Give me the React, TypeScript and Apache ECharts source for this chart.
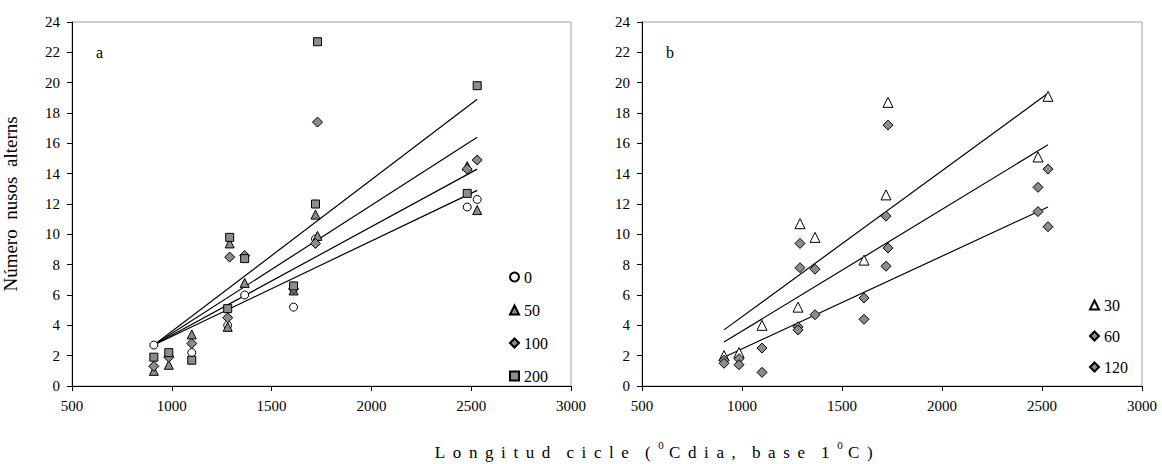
import { useEffect, useRef } from 'react';
import * as echarts from 'echarts';

const FONT = '"Liberation Serif", "Times New Roman", serif';
const GRAY = '#8c8c8c';

// Panel a: [longitud cicle, número nusos]
const a0: number[][] = [[910, 2.7], [985, 2.0], [1100, 2.2], [1280, 4.0], [1365, 6.0], [1610, 5.2], [1720, 9.7], [2480, 11.8], [2530, 12.3]];
const a50: number[][] = [[910, 1.0], [985, 1.4], [1100, 3.4], [1280, 3.9], [1290, 9.4], [1365, 6.8], [1610, 6.3], [1720, 11.3], [1730, 9.9], [2480, 14.5], [2530, 11.6]];
const a100: number[][] = [[910, 1.3], [985, 1.9], [1100, 2.8], [1280, 4.5], [1290, 8.5], [1365, 8.6], [1610, 6.4], [1720, 9.4], [1730, 17.4], [2480, 14.3], [2530, 14.9]];
const a200: number[][] = [[910, 1.9], [985, 2.2], [1100, 1.7], [1280, 5.1], [1290, 9.8], [1365, 8.4], [1610, 6.6], [1720, 12.0], [1730, 22.7], [2480, 12.7], [2530, 19.8]];

// Panel b
const b30: number[][] = [[910, 2.0], [985, 2.2], [1100, 4.0], [1280, 5.2], [1290, 10.7], [1365, 9.8], [1610, 8.3], [1720, 12.6], [1730, 18.7], [2480, 15.1], [2530, 19.1]];
const b60: number[][] = [[910, 1.7], [985, 1.8], [1100, 2.5], [1280, 3.9], [1290, 9.4], [1365, 7.7], [1610, 5.8], [1720, 11.2], [1730, 17.2], [2480, 13.1], [2530, 14.3]];
const b120: number[][] = [[910, 1.5], [985, 1.4], [1100, 0.9], [1280, 3.7], [1290, 7.8], [1365, 4.7], [1610, 4.4], [1720, 7.9], [1730, 9.1], [2480, 11.5], [2530, 10.5]];

// Trend lines: x range and y at start/end
const trendX = [910, 2530];
const trendA0 = [2.7, 12.9];
const trendA50 = [2.7, 14.3];
const trendA100 = [2.7, 16.4];
const trendA200 = [2.7, 18.9];
const trendB30 = [3.7, 19.3];
const trendB60 = [2.9, 15.9];
const trendB120 = [1.9, 11.8];

const xTicks = { min: 500, max: 3000, interval: 500 };
const yTicks = { min: 0, max: 24, interval: 2 };

const legendA = ['0', '50', '100', '200'];
const legendB = ['30', '60', '120'];

// x-axis title, letter-spaced; '^' marks a superscript zero
const xTitleParts = ['Longitud', 'cicle', '(^Cdia,', 'base', '1^C)'];
const xTitle = xTitleParts
  .map((w) => {
    let out = '';
    for (let i = 0; i < w.length; i++) {
      out += w[i] === '^' ? '{s|0}' : `{l|${w[i]}}`;
    }
    return out;
  })
  .join('{g|\u00A0\u00A0}');

function trend(ys: number[], idx: number) {
  return {
    type: 'line',
    xAxisIndex: idx,
    yAxisIndex: idx,
    data: trendX.map((x, i) => [x, ys[i]]),
    showSymbol: false,
    symbol: 'none',
    silent: true,
    lineStyle: { color: '#000', width: 1.2 },
    z: 2,
  };
}

function scatter(name: string, data: number[][], idx: number, symbol: string, fill: string, size: number) {
  return {
    type: 'scatter',
    name,
    xAxisIndex: idx,
    yAxisIndex: idx,
    data,
    symbol,
    symbolSize: size,
    itemStyle: { color: fill, borderColor: '#000', borderWidth: 1, opacity: 1 },
    z: 3,
  };
}

function xAxis(idx: number) {
  return {
    type: 'value',
    gridIndex: idx,
    ...xTicks,
    axisLine: { show: true, lineStyle: { color: '#000', width: 1 } },
    axisTick: { show: true, length: 5, lineStyle: { color: '#000' } },
    axisLabel: { fontFamily: FONT, fontSize: 15, color: '#000', margin: 12, formatter: (v: number) => String(v) },
    splitLine: { show: false },
  };
}

function yAxis(idx: number) {
  return {
    type: 'value',
    gridIndex: idx,
    ...yTicks,
    axisLine: { show: true, lineStyle: { color: '#000', width: 1 } },
    axisTick: { show: true, length: 5, lineStyle: { color: '#000' } },
    axisLabel: { fontFamily: FONT, fontSize: 15, color: '#000', margin: 12 },
    splitLine: { show: false },
    ...(idx === 0
      ? {
          name: 'Número  nusos  alterns',
          nameLocation: 'middle',
          nameGap: 52,
          nameTextStyle: { fontFamily: FONT, fontSize: 19, color: '#000' },
        }
      : {}),
  };
}

const legendCommon = {
  orient: 'vertical',
  itemWidth: 9,
  itemHeight: 9,
  textStyle: { fontFamily: FONT, fontSize: 16, color: '#000' },
  selectedMode: false,
};

const option = {
  animation: false,
  backgroundColor: '#fff',
  grid: [
    { left: 71, top: 22, width: 500, height: 364, show: true, borderColor: '#a0a0a0', borderWidth: 1 },
    { left: 642, top: 22, width: 500, height: 364, show: true, borderColor: '#a0a0a0', borderWidth: 1 },
  ],
  xAxis: [xAxis(0), xAxis(1)],
  yAxis: [yAxis(0), yAxis(1)],
  legend: [
    { ...legendCommon, data: legendA, left: 504, top: 264, itemGap: 17 },
    { ...legendCommon, data: legendB, left: 1084, top: 292, itemGap: 15 },
  ],
  graphic: [
    { type: 'text', left: 96, top: 44, style: { text: 'a', font: `16px ${FONT}`, fill: '#000' } },
    { type: 'text', left: 666, top: 44, style: { text: 'b', font: `16px ${FONT}`, fill: '#000' } },
    {
      type: 'text',
      x: 431,
      y: 450,
      style: {
        text: xTitle,
        align: 'left',
        verticalAlign: 'middle',
        fill: '#000',
        rich: {
          l: { fontFamily: FONT, fontSize: 17, lineHeight: 22, verticalAlign: 'bottom', padding: [0, 3.8, 0, 3.8], fill: '#000' },
          g: { fontFamily: FONT, fontSize: 17, lineHeight: 22, verticalAlign: 'bottom', fill: '#000' },
          s: { fontFamily: FONT, fontSize: 11, lineHeight: 22, verticalAlign: 'top', padding: [0, 1.5, 0, 3.8], fill: '#000' },
        },
      },
    },
  ],
  series: [
    trend(trendA0, 0),
    trend(trendA50, 0),
    trend(trendA100, 0),
    trend(trendA200, 0),
    trend(trendB30, 1),
    trend(trendB60, 1),
    trend(trendB120, 1),
    scatter('0', a0, 0, 'circle', '#fff', 8),
    scatter('50', a50, 0, 'triangle', GRAY, 9),
    scatter('100', a100, 0, 'diamond', GRAY, 10),
    scatter('200', a200, 0, 'rect', GRAY, 8),
    scatter('30', b30, 1, 'triangle', '#fff', 10),
    scatter('60', b60, 1, 'diamond', GRAY, 10),
    scatter('120', b120, 1, 'diamond', GRAY, 10),
  ],
};

export default function App() {
  const ref = useRef<HTMLDivElement>(null);
  useEffect(() => {
    document.body.style.margin = '0';
    const chart = echarts.init(ref.current!, null, { renderer: 'svg' });
    chart.setOption(option as any);
    return () => chart.dispose();
  }, []);
  return <div ref={ref} style={{ width: 1162, height: 464 }} />;
}
